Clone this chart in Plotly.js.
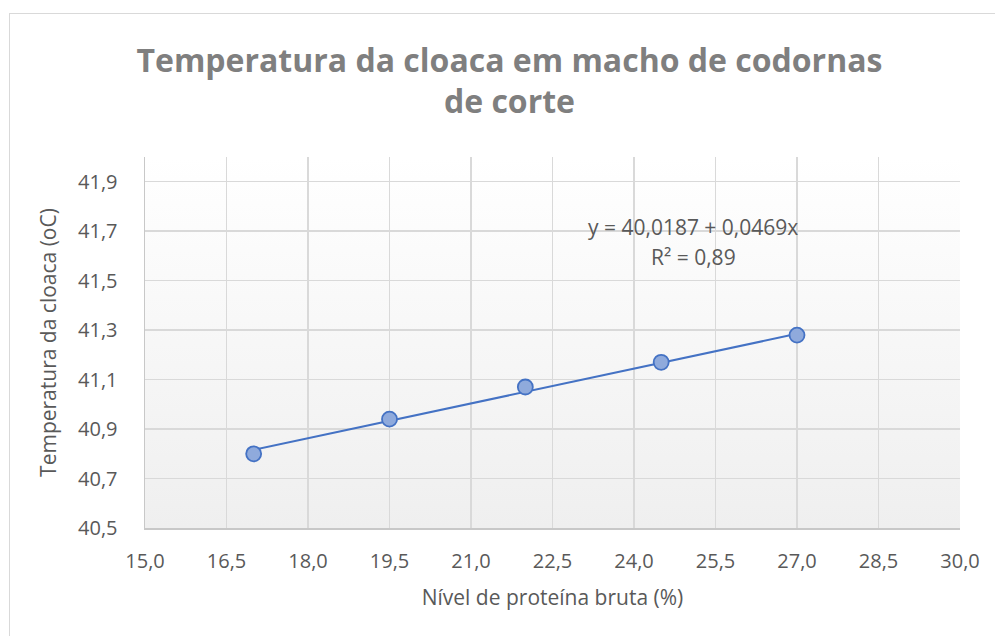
<!DOCTYPE html>
<html>
<head>
<meta charset="utf-8">
<script src="https://cdn.plot.ly/plotly-3.0.1.min.js"></script>
<style>
html,body{margin:0;padding:0;background:#fff;}
#wrap{position:relative;width:995px;height:636px;overflow:hidden;}
#frame{position:absolute;left:9px;top:13px;width:1000px;height:700px;border-left:1.5px solid #d9d9d9;border-top:1.5px solid #d9d9d9;}
#bg{position:absolute;left:145px;top:157px;width:815px;height:371px;background:linear-gradient(#ffffff,#efefef);}
#chart{position:absolute;left:0;top:0;width:995px;height:636px;}
</style>
</head>
<body>
<div id="wrap">
<div id="frame"></div>
<div id="bg"></div>
<div id="chart"></div>
</div>
<script>
// Data
const proteinLevel = [17.0, 19.5, 22.0, 24.5, 27.0];
const cloacaTemp = [40.80, 40.94, 41.07, 41.17, 41.28];
// Trendline coefficients shown on the chart
const trendIntercept = 40.0187;
const trendSlope = 0.0469;
const trendX = [17.0, 27.0];
const trendY = trendX.map(x => trendIntercept + trendSlope * x);
const equationText = "y = 40,0187 + 0,0469x";
const r2Text = "R² = 0,89";

const font = "Open Sans, sans-serif";
const grey = "#595959";

const traces = [
  {x: trendX, y: trendY, mode: "lines", type: "scatter",
   line: {color: "#4472c4", width: 2}, hoverinfo: "skip", showlegend: false},
  {x: proteinLevel, y: cloacaTemp, mode: "markers", type: "scatter",
   marker: {size: 15, color: "rgba(143,170,220,1)", line: {color: "#4472c4", width: 1.8}},
   showlegend: false}
];

const layout = {
  width: 995, height: 636,
  margin: {l: 145, r: 35, t: 157, b: 108},
  paper_bgcolor: "rgba(0,0,0,0)",
  plot_bgcolor: "rgba(0,0,0,0)",
  separators: ",.",
  showlegend: false,
  title: {
    text: "Temperatura da cloaca em macho de codornas<br>de corte",
    font: {family: font, size: 32, color: "#7f7f7f", weight: "bold"},
    x: 0.512, xanchor: "center", y: 0.887, yanchor: "middle"
  },
  xaxis: {
    range: [15, 30], tick0: 15, dtick: 1.5, tickformat: ".1f",
    showgrid: true, gridcolor: "#d9d9d9", gridwidth: 1.5,
    showline: true, linecolor: "#c8c8c8", linewidth: 1.5,
    zeroline: false, ticks: "", ticklabelstandoff: 14,
    tickfont: {family: font, size: 20, color: grey},
    title: {text: "Nível de proteína bruta (%)", font: {family: font, size: 21, color: grey}, standoff: 18}
  },
  yaxis: {
    range: [40.5, 42.0], tick0: 40.5, dtick: 0.2, tickformat: ".1f",
    showgrid: true, gridcolor: "#d9d9d9", gridwidth: 1.5,
    showline: true, linecolor: "#c8c8c8", linewidth: 1.5,
    zeroline: false, ticks: "", ticklabelstandoff: 22,
    tickfont: {family: font, size: 20, color: grey},
    title: {text: "Temperatura da cloaca (oC)", font: {family: font, size: 21, color: grey}, standoff: 15}
  },
  annotations: [
    {x: 25.09, y: 41.719, xref: "x", yref: "y", text: equationText, showarrow: false,
     xanchor: "center", yanchor: "middle", font: {family: font, size: 21, color: grey}},
    {x: 25.09, y: 41.597, xref: "x", yref: "y", text: r2Text, showarrow: false,
     xanchor: "center", yanchor: "middle", font: {family: font, size: 21, color: grey}}
  ]
};

Plotly.newPlot("chart", traces, layout, {displayModeBar: false, staticPlot: true});
</script>
</body>
</html>
